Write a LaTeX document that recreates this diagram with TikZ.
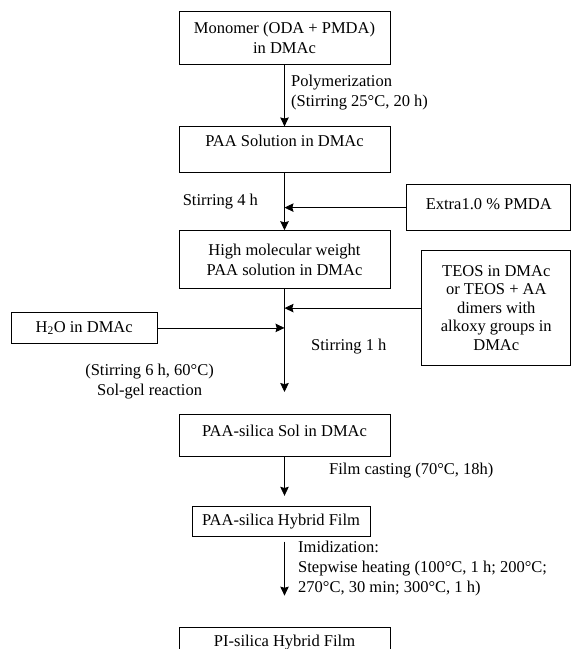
\documentclass[tikz,border=0pt]{standalone}
\usepackage{fontspec}
\setmainfont{Liberation Serif}
\usetikzlibrary{arrows.meta,positioning}

\begin{document}
\begin{tikzpicture}[
  every node/.style = {font=\fontsize{16.5}{20}\selectfont},
  box/.style  = {draw, line width=0.8pt, minimum width=211pt, inner sep=0pt},
  side/.style = {draw, line width=0.8pt, inner sep=0pt},
  lbl/.style  = {inner sep=0pt},
  arr/.style  = {-{Stealth[length=9pt,width=8.5pt,inset=1.2pt]}, line width=0.8pt},
]
\path[use as bounding box] (0,0) rectangle (571pt,-649pt);
\clip (0,0) rectangle (571pt,-649pt);

%% ---------- main column ----------
\node[box, minimum height=53pt, align=center] (mono) at (284.5pt,-37.5pt) {Monomer (ODA + PMDA)\\in DMAc};
\node[box, below=62pt of mono, text height=19.5pt, text depth=26.5pt] (paa) {PAA Solution in DMAc};
\node[box, below=57pt of paa, minimum height=58pt, align=center] (hmw) {High molecular weight\\PAA solution in DMAc};
\node[box, below=125pt of hmw, text height=22.5pt, text depth=19.5pt] (sol) {PAA-silica Sol in DMAc};
\node[box, below=49pt of sol, xshift=-3.5pt, minimum width=178pt, minimum height=30pt] (film) {PAA-silica Hybrid Film};
\node[box, below=90pt of film, xshift=3.5pt, text height=19.5pt, text depth=20pt] (pi) {PI-silica Hybrid Film};

%% ---------- side inputs ----------
\node[side, below right=11pt and 16pt of paa.south east, minimum width=164pt,
      text height=24.5pt, text depth=21.5pt] (extra) {Extra1.0 \% PMDA};
\node[side, below right=20pt and 31pt of hmw.north east, minimum width=149pt, minimum height=115pt,
      align=center, font=\fontsize{16.5}{18.5}\selectfont] (teos)
      {TEOS in DMAc\\or TEOS + AA\\dimers with\\alkoxy groups in\\DMAc};
\node[side, below left=23pt and 21pt of hmw.south west, minimum width=146pt, minimum height=31pt] (h2o)
      {H\textsubscript{2}O in DMAc};

\draw[arr] (mono) -- (paa);
\draw[arr] (paa) -- (hmw);
\draw[arr] (extra.west) -- (extra.west -| paa.south);
\draw[arr, shorten >=22pt] (hmw) -- (sol);
\draw[arr] (teos.west) -- (teos.west -| hmw.south);
\draw[arr] (h2o.east) -- (h2o.east -| hmw.south);
\draw[arr, shorten >=10pt] (sol) -- (sol.south |- film.north);
\draw[arr, shorten <=5pt, shorten >=31pt] (film.south -| pi.north) -- (pi);

%% ---------- conditions ----------
\node[lbl, right=6.5pt of mono.south, yshift=-28pt, align=left] (poly) {Polymerization\\(Stirring 25°C, 20 h)};
\node[lbl, right=4pt of paa.south west, yshift=-28pt] (stir4) {Stirring 4 h};
\node[lbl, right=26.5pt of hmw.south, yshift=-58pt] (stir1) {Stirring 1 h};
\node[lbl, left=70.5pt of hmw.south, yshift=-93pt, align=center] (solgel) {(Stirring 6 h, 60°C)\\Sol-gel reaction};
\node[lbl, right=44.5pt of sol.south, yshift=-14pt] (cast) {Film casting (70°C, 18h)};
\node[lbl, right=17pt of film.south, yshift=-32pt, align=left] (imid)
      {Imidization:\\Stepwise heating (100°C, 1 h; 200°C;\\270°C, 30 min; 300°C, 1 h)};

\end{tikzpicture}
\end{document}
